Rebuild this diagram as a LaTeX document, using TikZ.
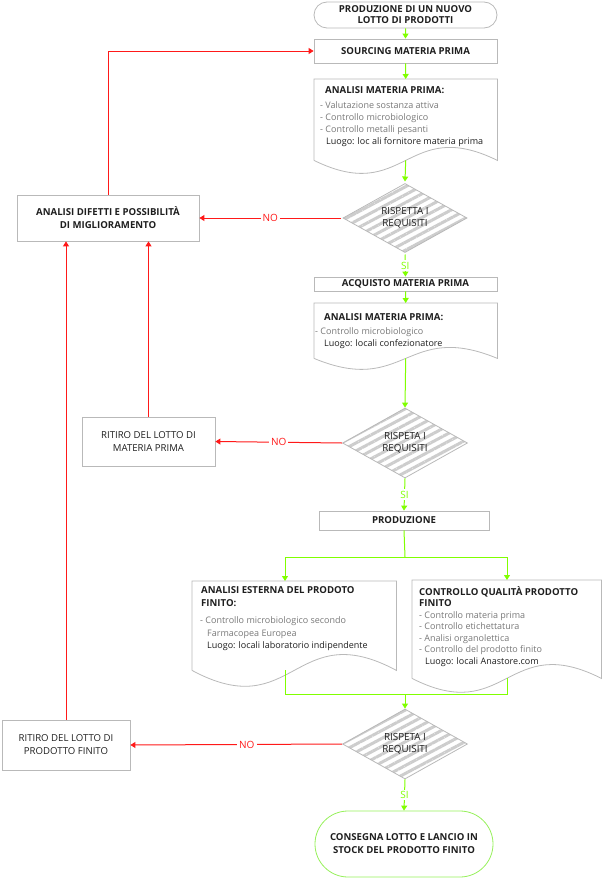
\documentclass[tikz,border=0pt]{standalone}
\usepackage{fontspec}
\setmainfont{Open Sans}
\usetikzlibrary{arrows.meta,shapes.geometric,shapes.misc,patterns.meta,calc}

\definecolor{flowgreen}{RGB}{128,255,0}
\definecolor{flowred}{RGB}{255,25,25}
\definecolor{boxgray}{RGB}{185,185,185}
\definecolor{bodygray}{RGB}{120,120,120}
\definecolor{txtdark}{RGB}{30,30,30}
\definecolor{endgreen}{RGB}{150,240,90}
\definecolor{stripegray}{RGB}{205,205,205}

\tikzset{
  box/.style={draw=boxgray, line width=0.8pt, inner sep=0pt, align=center,
    text=txtdark, font=\fontsize{9.6}{13}\selectfont},
  boldbox/.style={box, font=\fontsize{9.6}{13}\selectfont\bfseries},
  terminal/.style={boldbox, rounded rectangle},
  decision/.style={diamond, draw=boxgray, line width=0.8pt, inner sep=0pt,
    minimum width=125pt, minimum height=70pt, align=center, text=txtdark,
    font=\fontsize{9.8}{12}\selectfont, preaction={fill=white},
    pattern={Lines[angle=28,distance=7pt,line width=3pt]}, pattern color=stripegray},
  docframe/.style={inner sep=0pt, anchor=north west},
  docline/.style={draw=boxgray, line width=0.8pt},
  doctext/.style={anchor=north west, inner sep=0pt, align=left, text=txtdark},
  gline/.style={draw=flowgreen, line width=1pt},
  garrow/.style={gline, -{Triangle[length=5pt,width=6pt]}},
  rline/.style={draw=flowred, line width=1pt},
  rarrow/.style={rline, -{Triangle[length=5pt,width=6pt]}},
  nolabel/.style={fill=white, text=flowred, inner sep=2pt, font=\fontsize{10}{11}\selectfont},
  silabel/.style={fill=white, text=flowgreen, inner sep=1.5pt, font=\fontsize{10}{11}\selectfont},
}

% outline of a document with a wavy bottom
\newcommand{\docoutline}[2]{%
  \draw[docline] (#1.south west) -- (#1.north west) -- (#1.north east) -- (#1.south east)
    .. controls ($(#1.south)+(0,-#2)$) and ($(#1.south)+(0,#2)$) .. (#1.south west);}
\newcommand{\bodyline}[1]{\textcolor{bodygray}{#1}}
\newcommand{\doctitle}[1]{\textbf{\fontsize{9.6}{12}\selectfont #1}}

\begin{document}
\begin{tikzpicture}[x=1pt,y=-1pt]
  \useasboundingbox (0,0) rectangle (602,878);

  % main column
  \node[terminal, font=\fontsize{9.6}{11}\selectfont\bfseries, minimum width=183pt,
    minimum height=26pt] (start) at (405.5,15) {PRODUZIONE DI UN NUOVO\\LOTTO DI PRODOTTI};
  \node[boldbox, minimum width=183pt, minimum height=24pt] (src) at (405.5,51)
    {SOURCING MATERIA PRIMA};

  \node[docframe, minimum width=183pt, minimum height=81pt] (am1) at (314,79) {};
  \docoutline{am1}{45}
  \node[doctext, font=\fontsize{9}{12}\selectfont] (am1txt) at ([shift={(6,7.6)}]am1.north west)
    {\hspace*{5pt}\doctitle{ANALISI MATERIA PRIMA:}\\[3pt]
     \bodyline{- Valutazione sostanza attiva}\\
     \bodyline{- Controllo microbiologico}\\
     \bodyline{- Controllo metalli pesanti}\\
     \hspace*{6pt}Luogo: loc ali fornitore materia prima};

  \node[decision] (d1) at (405,218) {RISPETTA I\\REQUISITI};
  \node[boldbox, minimum width=183pt, minimum height=14pt] (acq) at (405.5,284)
    {ACQUISTO MATERIA PRIMA};

  \node[docframe, minimum width=183pt, minimum height=55pt] (am2) at (314,303) {};
  \docoutline{am2}{38}
  \node[doctext, font=\fontsize{9}{12}\selectfont] (am2txt) at ([shift={(1,10.6)}]am2.north west)
    {\hspace*{9pt}\doctitle{ANALISI MATERIA PRIMA:}\\[2pt]
     \bodyline{- Controllo microbiologico}\\
     \hspace*{9pt}Luogo: locali confezionatore};

  \node[decision] (d2) at (405,443) {RISPETA I\\REQUISITI};
  \node[boldbox, minimum width=170pt, minimum height=19pt] (pro) at (404,520.5)
    {PRODUZIONE};

  \node[docframe, minimum width=204pt, minimum height=89pt] (am3) at (192,581) {};
  \docoutline{am3}{55}
  \node[doctext, font=\fontsize{9}{12.5}\selectfont] (am3txt) at ([shift={(8,5.6)}]am3.north west)
    {\hspace*{1pt}\doctitle{ANALISI ESTERNA DEL PRODOTO}\\
     \hspace*{1pt}\doctitle{FINITO:}\\[5pt]
     \bodyline{- Controllo microbiologico secondo}\\
     \hspace*{7pt}\bodyline{Farmacopea Europea}\\
     \hspace*{7pt}Luogo: locali laboratorio indipendente};

  \node[docframe, minimum width=189pt, minimum height=98pt] (am4) at (412,580) {};
  \docoutline{am4}{48}
  \node[doctext, font=\fontsize{9}{11.5}\selectfont] (am4txt) at ([shift={(7,6.3)}]am4.north west)
    {\doctitle{CONTROLLO QUALITÀ PRODOTTO}\\
     \doctitle{FINITO}\\
     \bodyline{- Controllo materia prima}\\
     \bodyline{- Controllo etichettatura}\\
     \bodyline{- Analisi organolettica}\\
     \bodyline{- Controllo del prodotto finito}\\
     \hspace*{6pt}Luogo: locali Anastore.com};

  \node[decision] (d3) at (405,744) {RISPETA I\\REQUISITI};
  \node[terminal, draw=endgreen, minimum width=178pt, minimum height=66pt] (stop) at (404,844)
    {CONSEGNA LOTTO E LANCIO IN\\STOCK DEL PRODOTTO FINITO};

  % left column
  \node[boldbox, minimum width=182pt, minimum height=46pt] (dif) at (108,218)
    {ANALISI DIFETTI E POSSIBILITÀ\\DI MIGLIORAMENTO};
  \node[box, minimum width=133pt, minimum height=49pt] (rit1) at (148.5,441.5)
    {RITIRO DEL LOTTO DI\\MATERIA PRIMA};
  \node[box, minimum width=128pt, minimum height=50pt] (rit2) at (66,745)
    {RITIRO DEL LOTTO DI\\PRODOTTO FINITO};

  % split and merge points
  \coordinate (split) at (405,557);
  \coordinate (sp3) at (285,557);
  \coordinate (sp4) at (507,557);
  \coordinate (mg3) at (285,694);
  \coordinate (mg4) at (507,694);
  \coordinate (merge) at (405,694);

  % green flow
  \draw[garrow] (start) -- (src);
  \draw[garrow] (src) -- (am1.north);
  \draw[garrow] (am1.south) -- (d1.north);
  \draw[garrow] (d1.south) -- node[silabel] {SI} (acq.north);
  \draw[garrow] (acq) -- (am2.north);
  \draw[garrow] (am2.south) -- (d2.north);
  \draw[garrow] (d2.south) -- node[silabel] {SI} (pro.north);
  \draw[gline] (pro.south) -- (split);
  \draw[gline] (sp3) -- (sp4);
  \draw[garrow] (sp3) -- (sp3 |- am3.north);
  \draw[garrow] (sp4) -- (sp4 |- am4.north);
  \draw[gline] (mg3 |- am3.south) -- (mg3) -- (mg4) -- (mg4 |- am4.south);
  \draw[garrow] (merge) -- (d3.north);
  \draw[garrow] (d3.south) -- node[silabel] {SI} (stop.north);

  % red flow
  \draw[rarrow] (d1.west) -- node[nolabel] {NO} (dif.east);
  \draw[rarrow] (dif.north) |- (src.west);
  \draw[rarrow] (d2.west) -- node[nolabel] {NO} (rit1.east);
  \draw[rarrow] (rit1.north) -- (rit1.north |- dif.south);
  \draw[rarrow] (d3.west) -- node[nolabel, pos=0.45] {NO} (rit2.east);
  \draw[rarrow] (rit2.north) -- (rit2.north |- dif.south);
\end{tikzpicture}
\end{document}
